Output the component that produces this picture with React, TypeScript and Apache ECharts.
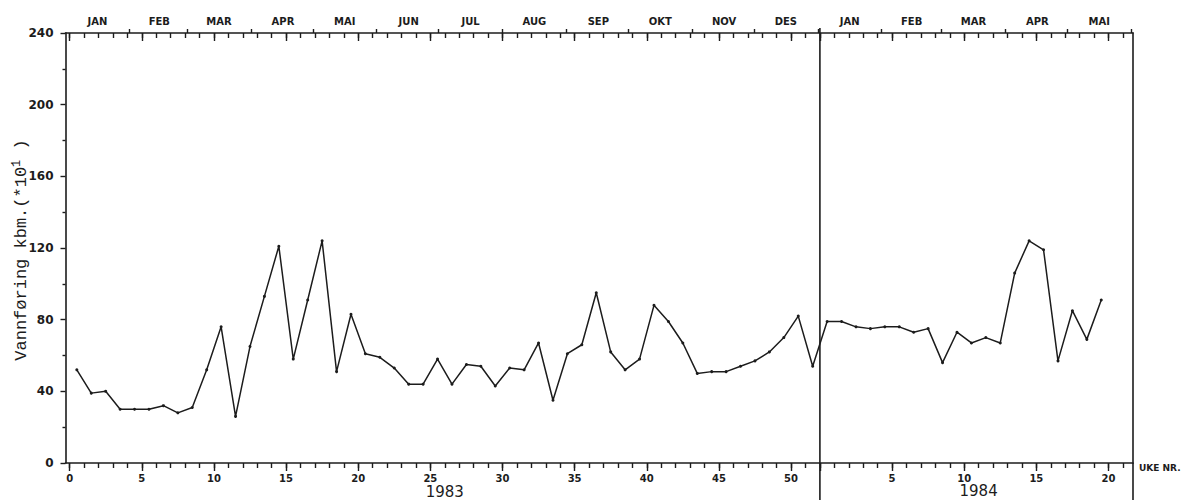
import React, { useEffect, useRef } from "react";
import * as echarts from "echarts";

// Weekly discharge (Vannføring, kbm *10^1)
const flow1983 = [
  52, 39, 40, 30, 30, 30, 32, 28, 31, 52, 76, 26, 65, 93, 121, 58, 91, 124, 51, 83,
  61, 59, 53, 44, 44, 58, 44, 55, 54, 43, 53, 52, 67, 35, 61, 66, 95, 62, 52, 58,
  88, 79, 67, 50, 51, 51, 54, 57, 62, 70, 82, 54,
];
const flow1984 = [79, 79, 76, 75, 76, 76, 73, 75, 56, 73, 67, 70, 67, 106, 124, 119, 57, 85, 69, 91];
const monthNames = ["JAN", "FEB", "MAR", "APR", "MAI", "JUN", "JUL", "AUG", "SEP", "OKT", "NOV", "DES"];
const yearLabels = ["1983", "1984"];
const yAxisTitle = "Vannføring kbm.(*10{sup|1} )";
const xAxisTitle = "UKE NR.";
const weekTickStep = 5;
const lastLabelWeek1983 = 50;
const lastLabelWeek1984 = 20;
const lastWeekTick = 21; // 1984
const yTickMax = 240;
const yTickStep = 40;

const DAY = 86400000;
const origin = Date.UTC(1983, 0, 3); // Monday of week 1, 1983
const toWeeks = (t: number) => (t - origin) / (7 * DAY);
const WEEKS_1983 = flow1983.length; // 52

const INK = "#1c1c1c";
const FONT = "DejaVu Sans";

export default function App() {
  const ref = useRef<HTMLDivElement>(null);
  useEffect(() => {
    if (!ref.current) return;
    const chart = echarts.init(ref.current, undefined, { renderer: "svg" });

    const startT = Date.UTC(1983, 0, 1);
    const endT = Date.UTC(1984, 5, 1);
    const xMin = toWeeks(startT);
    const xMax = 73.7;

    // plot-area geometry
    const L = 65.5;
    const R = 1133;
    const TOP = 33;
    const H = 430;
    const px = (w: number) => L + ((w - xMin) * (R - L)) / (xMax - xMin);

    // day categories for the month axis
    const days: string[] = [];
    for (let t = startT; t < endT; t += DAY) days.push(new Date(t).toISOString().slice(0, 10));
    const isMonthStart = (v: string) => v.slice(8, 10) === "01";
    const isMonthMid = (v: string) => v.slice(8, 10) === (v.slice(5, 7) === "02" ? "15" : "16");

    const data: number[][] = [];
    flow1983.forEach((v, i) => data.push([i + 0.5, v]));
    flow1984.forEach((v, i) => data.push([WEEKS_1983 + i + 0.5, v]));

    const hiddenY = (gridIndex: number) => ({ type: "value", gridIndex, min: 0, max: 1, show: false });
    const tickStyle = () => ({ color: INK, width: 1.4 });
    const labelStyle = { fontSize: 10, fontWeight: "bold", fontFamily: FONT, color: INK };
    const ghostLine = () => ({ show: true, onZero: false, lineStyle: { color: INK, width: 1.6, opacity: 0 } });
    const g = (left: number, width: number) => ({
      left, width, top: TOP, height: H, containLabel: false, outerBoundsMode: "none",
    });

    const grid = [
      g(L, R - L),
      g(px(0), px(WEEKS_1983 + lastWeekTick) - px(0)),
      g(px(0), px(lastLabelWeek1983) - px(0)),
      g(px(WEEKS_1983), px(WEEKS_1983 + lastLabelWeek1984) - px(WEEKS_1983)),
      g(L, px(toWeeks(endT)) - L),
    ];

    const option: any = {
      animation: false,
      backgroundColor: "#ffffff",
      grid,
      xAxis: [
        // 0: main data axis (bottom frame line)
        {
          type: "value", gridIndex: 0, min: xMin, max: xMax, position: "bottom",
          splitLine: { show: false },
          axisLine: { show: true, onZero: false, lineStyle: { color: INK, width: 1.6 } },
          axisTick: { show: false }, axisLabel: { show: false },
        },
        // 1: top frame line
        {
          type: "value", gridIndex: 0, min: xMin, max: xMax, position: "top",
          splitLine: { show: false },
          axisLine: { show: true, onZero: false, lineStyle: { color: INK, width: 1.6 } },
          axisTick: { show: false }, axisLabel: { show: false },
        },
        // 2,3: weekly ticks bottom / top
        {
          type: "value", gridIndex: 1, min: 0, max: WEEKS_1983 + lastWeekTick, interval: 1, position: "bottom",
          splitLine: { show: false }, axisLine: ghostLine(),
          axisTick: { show: true, length: 5, lineStyle: tickStyle() }, axisLabel: { show: false },
        },
        {
          type: "value", gridIndex: 1, min: 0, max: WEEKS_1983 + lastWeekTick, interval: 1, position: "top",
          splitLine: { show: false }, axisLine: ghostLine(),
          axisTick: { show: true, inside: true, length: 5, lineStyle: tickStyle() }, axisLabel: { show: false },
        },
        // 4,5: 1983 five-week ticks with labels
        {
          type: "value", gridIndex: 2, min: 0, max: lastLabelWeek1983, interval: weekTickStep, position: "bottom",
          splitLine: { show: false }, axisLine: ghostLine(),
          axisTick: { show: true, length: 8, lineStyle: tickStyle() },
          axisLabel: { show: true, margin: 10, showMinLabel: true, showMaxLabel: true, ...labelStyle },
        },
        {
          type: "value", gridIndex: 2, min: 0, max: lastLabelWeek1983, interval: weekTickStep, position: "top",
          splitLine: { show: false }, axisLine: ghostLine(),
          axisTick: { show: true, inside: true, length: 8, lineStyle: tickStyle() }, axisLabel: { show: false },
        },
        // 6,7: 1984 five-week ticks with labels
        {
          type: "value", gridIndex: 3, min: WEEKS_1983, max: WEEKS_1983 + lastLabelWeek1984, interval: weekTickStep, position: "bottom",
          splitLine: { show: false }, axisLine: ghostLine(),
          axisTick: { show: true, length: 8, lineStyle: tickStyle() },
          axisLabel: {
            show: true, margin: 10, showMaxLabel: true, ...labelStyle,
            formatter: (v: number) => (v <= WEEKS_1983 ? "" : String(Math.round(v - WEEKS_1983))),
          },
        },
        {
          type: "value", gridIndex: 3, min: WEEKS_1983, max: WEEKS_1983 + lastLabelWeek1984, interval: weekTickStep, position: "top",
          splitLine: { show: false }, axisLine: ghostLine(),
          axisTick: { show: true, inside: true, length: 8, lineStyle: tickStyle() }, axisLabel: { show: false },
        },
        // 8: months (top)
        {
          type: "category", gridIndex: 4, data: days, boundaryGap: true, position: "top",
          splitLine: { show: false }, axisLine: ghostLine(),
          axisTick: { show: true, length: 4, lineStyle: tickStyle(), interval: (_i: number, v: string) => isMonthStart(v) && v !== days[0] },
          axisLabel: {
            show: true, margin: 7, ...labelStyle,
            interval: (_i: number, v: string) => isMonthMid(v),
            formatter: (v: string) => monthNames[Number(v.slice(5, 7)) - 1],
          },
        },
      ],
      yAxis: [
        {
          type: "value", gridIndex: 0, min: 0, max: yTickMax, interval: yTickStep, position: "left",
          splitLine: { show: false },
          axisLine: { show: true, onZero: false, lineStyle: { color: INK, width: 1.6 } },
          axisTick: { show: true, length: 5, lineStyle: tickStyle() },
          minorTick: { show: true, splitNumber: 2, length: 3, lineStyle: tickStyle() },
          axisLabel: { margin: 12, fontSize: 12, fontWeight: "bold", fontFamily: FONT, color: INK },
        },
        {
          type: "value", gridIndex: 0, min: 0, max: yTickMax, interval: yTickStep, position: "right",
          splitLine: { show: false },
          axisLine: { show: true, onZero: false, lineStyle: { color: INK, width: 1.6 } },
          axisTick: { show: false }, axisLabel: { show: false },
        },
        hiddenY(1),
        hiddenY(2),
        hiddenY(3),
        hiddenY(4),
      ],
      series: [
        {
          type: "line",
          xAxisIndex: 0,
          yAxisIndex: 0,
          data,
          symbol: "circle",
          symbolSize: 3,
          showSymbol: true,
          lineStyle: { color: INK, width: 1.5 },
          itemStyle: { color: INK },
        },
      ],
    };
    chart.setOption(option);

    const xDiv = chart.convertToPixel({ xAxisIndex: 0 }, WEEKS_1983) as number;
    const xRight = chart.convertToPixel({ xAxisIndex: 0 }, xMax) as number;
    const yTop = chart.convertToPixel({ yAxisIndex: 0 }, yTickMax) as number;
    const yBot = chart.convertToPixel({ yAxisIndex: 0 }, 0) as number;
    const x1983 = chart.convertToPixel({ xAxisIndex: 0 }, 26) as number;
    const x1984 = chart.convertToPixel({ xAxisIndex: 0 }, WEEKS_1983 + 11) as number;

    chart.setOption({
      graphic: [
        { type: "line", shape: { x1: xDiv, y1: yTop - 5, x2: xDiv, y2: yBot + 37 }, style: { stroke: INK, lineWidth: 1.6 } },
        { type: "line", shape: { x1: xRight, y1: yBot, x2: xRight, y2: yBot + 37 }, style: { stroke: INK, lineWidth: 1.6 } },
        {
          type: "text", x: 21, y: (yTop + yBot) / 2 + 2, rotation: Math.PI / 2,
          style: {
            text: yAxisTitle, align: "center", verticalAlign: "middle",
            fontFamily: "Liberation Mono", fontSize: 17, fill: INK,
            rich: { sup: { fontFamily: "Liberation Mono", fontSize: 12, fill: INK, padding: [0, 0, 8, 0] } },
          },
        },
        {
          type: "text", x: x1983, y: yBot + 29,
          style: { text: yearLabels[0], align: "center", verticalAlign: "middle", fontFamily: FONT, fontSize: 15, fill: INK },
        },
        {
          type: "text", x: x1984, y: yBot + 28,
          style: { text: yearLabels[1], align: "center", verticalAlign: "middle", fontFamily: FONT, fontSize: 15, fill: INK },
        },
        {
          type: "text", x: xRight + 6, y: yBot + 5,
          style: { text: xAxisTitle, align: "left", verticalAlign: "middle", fontFamily: FONT, fontSize: 9, fontWeight: "bold", fill: INK },
        },
      ],
    });

    return () => chart.dispose();
  }, []);

  return (
    <div
      ref={ref}
      style={{ position: "absolute", left: 0, top: 0, width: 1198, height: 503, background: "#fff" }}
    />
  );
}
